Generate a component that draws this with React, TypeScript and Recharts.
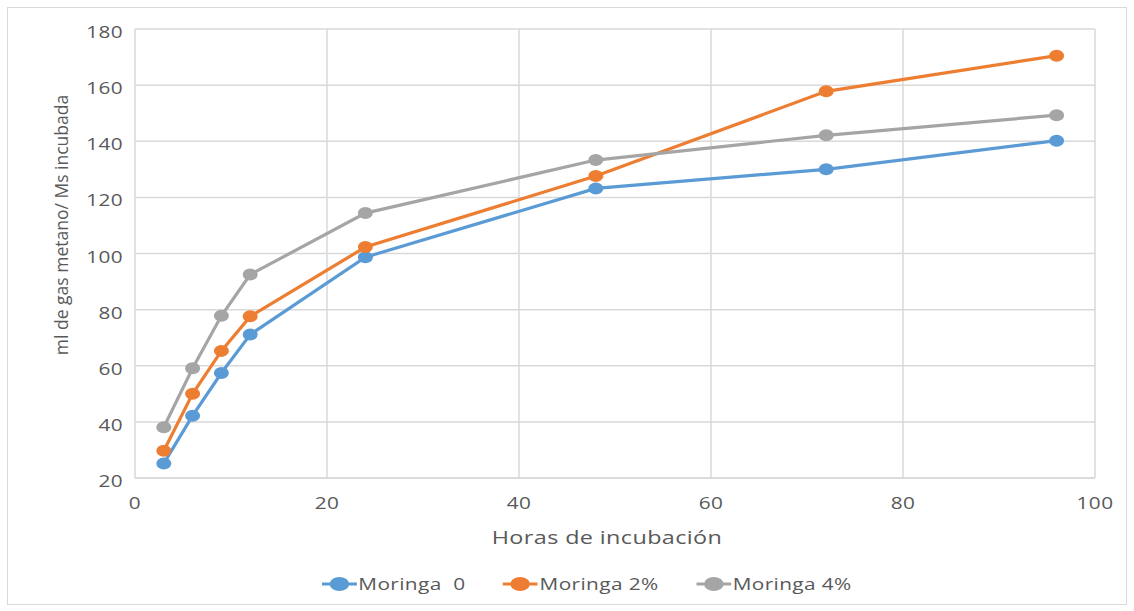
import React from "react";
import { LineChart, Line, XAxis, YAxis, CartesianGrid } from "recharts";

// Hours of incubation at each reading
const hours = [3, 6, 9, 12, 24, 48, 72, 96];

// Cumulative methane (ml / g DM incubated) per treatment
const moringa0 = [25.2, 42.2, 57.4, 71.1, 98.7, 123.2, 130, 140.2];
const moringa2 = [29.7, 50, 65.3, 77.6, 102.3, 127.6, 157.8, 170.5];
const moringa4 = [38.1, 59.1, 77.8, 92.5, 114.4, 133.3, 142.1, 149.3];

const xTicks = [0, 20, 40, 60, 80, 100];
const yTicks = [20, 40, 60, 80, 100, 120, 140, 160, 180];

const seriesNames = ["Moringa  0", "Moringa 2%", "Moringa 4%"];
const seriesColors = ["#5B9BD5", "#ED7D31", "#A5A5A5"];
const seriesKeys = ["m0", "m2", "m4"];

const data = hours.map((h, i) => ({
  h,
  m0: moringa0[i],
  m2: moringa2[i],
  m4: moringa4[i],
}));

const FONT = "'Open Sans', 'DejaVu Sans', sans-serif";
const TEXT = "#595959";
const SX = 1.3; // horizontal text stretch

const XTick = (props: any) => {
  const { x, y, payload } = props;
  return (
    <text
      transform={`translate(${x},${y}) scale(${SX},1)`}
      x={0}
      y={23}
      textAnchor="middle"
      fill={TEXT}
      fontFamily={FONT}
      fontSize={16}
      letterSpacing={0.3}
    >
      {payload.value}
    </text>
  );
};

const YTick = (props: any) => {
  const { x, y, payload } = props;
  return (
    <text
      transform={`translate(${x - 4},${y}) scale(${SX},1)`}
      x={0}
      y={9}
      textAnchor="end"
      fill={TEXT}
      fontFamily={FONT}
      fontSize={16}
      letterSpacing={0.3}
    >
      {payload.value}
    </text>
  );
};

const YTitle = () => (
  <text
    x={68}
    y={225}
    transform="rotate(-90 68 225)"
    textAnchor="middle"
    fill={TEXT}
    fontFamily={FONT}
    fontSize={17.5}
  >
    ml de gas metano/ Ms incubada
  </text>
);

const XTitle = () => (
  <text
    transform={`translate(607,544) scale(${SX},1)`}
    x={0}
    y={0}
    textAnchor="middle"
    fill={TEXT}
    fontFamily={FONT}
    fontSize={18}
    letterSpacing={0.3}
  >
    Horas de incubación
  </text>
);

const makeDot = (color: string) => (props: any) => {
  const { cx, cy, index } = props;
  if (cx == null || cy == null) return <g key={index} />;
  return <ellipse key={index} cx={cx} cy={cy} rx={7.5} ry={6} fill={color} />;
};

export default function App() {
  return (
    <div style={{ position: "absolute", left: 0, top: 0, width: 1134, height: 611, background: "#fff" }}>
      <div
        style={{
          position: "absolute",
          left: 7,
          top: 7,
          width: 1120,
          height: 598,
          border: "1px solid #d9d9d9",
          boxSizing: "border-box",
        }}
      />
      <div style={{ position: "absolute", left: 0, top: 0 }}>
        <LineChart width={1134} height={611} data={data} margin={{ top: 29, right: 39, left: 75, bottom: 103 }}>
          <CartesianGrid stroke="#d9d9d9" strokeWidth={1.5} />
          <XAxis
            dataKey="h"
            type="number"
            domain={[0, 100]}
            ticks={xTicks}
            height={30}
            axisLine={{ stroke: "#d9d9d9", strokeWidth: 1.5 }}
            tickLine={false}
            tick={<XTick />}
            label={<XTitle />}
          />
          <YAxis
            type="number"
            domain={[20, 180]}
            ticks={yTicks}
            width={60}
            axisLine={false}
            tickLine={false}
            tick={<YTick />}
            label={<YTitle />}
          />
          {seriesKeys.map((k, i) => (
            <Line
              key={k}
              dataKey={k}
              name={seriesNames[i]}
              stroke={seriesColors[i]}
              strokeWidth={3.2}
              dot={makeDot(seriesColors[i])}
              activeDot={false}
              isAnimationActive={false}
            />
          ))}
        </LineChart>
      </div>
      <div
        style={{
          position: "absolute",
          top: 574,
          left: 20,
          width: 1134,
          display: "flex",
          justifyContent: "center",
        }}
      >
        <div
          style={{
            display: "flex",
            gap: 29,
            transform: `scaleX(${SX})`,
            fontFamily: FONT,
            fontSize: 16,
            letterSpacing: 0.3,
            color: TEXT,
            lineHeight: "20px",
          }}
        >
          {seriesNames.map((n, i) => (
            <div key={n} style={{ display: "flex", alignItems: "center" }}>
              <svg width={27} height={20} style={{ marginRight: 1 }}>
                <line x1={0} y1={10} x2={27} y2={10} stroke={seriesColors[i]} strokeWidth={3} />
                <ellipse cx={13.5} cy={10} rx={7.5} ry={7} fill={seriesColors[i]} />
              </svg>
              <span style={{ whiteSpace: "pre" }}>{n}</span>
            </div>
          ))}
        </div>
      </div>
    </div>
  );
}
